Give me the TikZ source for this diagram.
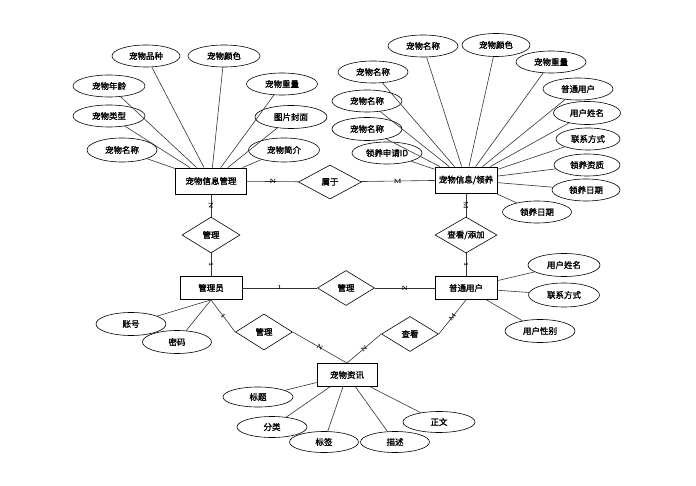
\documentclass[tikz,border=0pt]{standalone}
\usepackage{fontspec}
\newfontfamily\cjk{Noto Sans CJK SC}[AutoFakeBold=1.5]
\usepackage{tikz}
\usetikzlibrary{shapes.geometric,positioning}

\begin{document}
\begin{tikzpicture}[x=1pt, y=-1pt,
    entity/.style={rectangle, draw, line width=0.8pt, minimum width=62pt, minimum height=23pt, inner sep=1pt, font=\cjk\bfseries\fontsize{8.5}{10}\selectfont},
    attr/.style={ellipse, draw, line width=0.6pt, minimum width=70pt, minimum height=22pt, inner sep=0pt, font=\cjk\bfseries\fontsize{8.5}{10}\selectfont},
    rel/.style={diamond, draw, line width=0.6pt, aspect=1.7, minimum width=58pt, minimum height=36pt, inner sep=0pt, font=\cjk\bfseries\fontsize{8.5}{10}\selectfont},
    link/.style={draw=black!80, line width=0.6pt},
    card/.style={font=\bfseries\fontsize{6}{6}\selectfont, sloped, inner sep=0.5pt}
]
    \useasboundingbox (0,0) rectangle (696,486);

    % Entities
    \node[entity, minimum width=71pt, minimum height=26pt] (petmgr) at (211,181) {宠物信息管理};
    \node[entity, minimum height=26pt] (petadopt) at (466,180) {宠物信息/领养};
    \node[entity] (admin) at (211,288) {管理员};
    \node[entity] (user) at (466,288) {普通用户};
    \node[entity, minimum width=60pt] (news) at (347,375) {宠物资讯};

    % Relationships
    \node[rel, minimum width=63pt, minimum height=34pt] (belong) at (330,182) {属于};
    \node[rel] (manage1) at (211,235) {管理};
    \node[rel, minimum width=62pt] (view1) at (466,235) {查看/添加};
    \node[rel, minimum width=57pt, minimum height=35pt] (manage2) at (346,288) {管理};
    \node[rel, minimum width=57pt] (manage3) at (264,332) {管理};
    \node[rel, minimum width=57pt, minimum height=35pt] (view2) at (410,334) {查看};

    % Attributes of 宠物信息管理
    \node[attr, minimum width=68pt] (breed) at (146,56) {宠物品种};
    \node[attr, minimum width=72pt] (color1) at (224,56) {宠物颜色};
    \node[attr, minimum width=72pt] (age) at (109,86) {宠物年龄};
    \node[attr, minimum width=71pt] (weight1) at (282,84) {宠物重量};
    \node[attr, minimum width=72pt] (type) at (109,116) {宠物类型};
    \node[attr, minimum width=72pt, minimum height=23pt] (cover) at (291,117) {图片封面};
    \node[attr, minimum height=24pt] (name1) at (122,150) {宠物名称};
    \node[attr, minimum width=71pt, minimum height=24pt] (intro) at (284,150) {宠物简介};

    % Attributes of 宠物信息/领养
    \node[attr] (name2) at (423,46) {宠物名称};
    \node[attr, minimum width=68pt, minimum height=23pt] (color2) at (496,45) {宠物颜色};
    \node[attr] (weight2) at (551,62) {宠物重量};
    \node[attr] (name3) at (373,72) {宠物名称};
    \node[attr] (puser) at (578,89) {普通用户};
    \node[attr] (name4) at (367,101) {宠物名称};
    \node[attr, minimum width=67pt, minimum height=23pt] (uname1) at (587,113) {用户姓名};
    \node[attr, minimum height=23pt] (name5) at (367,129) {宠物名称};
    \node[attr, minimum width=64pt] (phone1) at (588,139) {联系方式};
    \node[attr] (applyid) at (387,153) {领养申请ID};
    \node[attr, minimum width=66pt] (qualify) at (587,165) {领养资质};
    \node[attr, minimum width=68pt] (date1) at (586,190) {领养日期};
    \node[attr, minimum width=69pt] (date2) at (537,212) {领养日期};

    % Attributes of 管理员 and 普通用户
    \node[attr, minimum height=23pt] (account) at (131,324) {账号};
    \node[attr, minimum width=69pt, minimum height=23pt] (pwd) at (177,342) {密码};
    \node[attr, minimum width=72pt, minimum height=23pt] (uname2) at (564,265) {用户姓名};
    \node[attr, minimum width=71pt, minimum height=24pt] (phone2) at (564,295) {联系方式};
    \node[attr, minimum height=23pt] (gender) at (540,331) {用户性别};

    % Attributes of 宠物资讯
    \node[attr, minimum height=20pt] (title) at (258,397) {标题};
    \node[attr, minimum height=21pt] (category) at (272,427) {分类};
    \node[attr, minimum width=69pt, minimum height=21pt] (tag) at (324,442) {标签};
    \node[attr, minimum width=69pt, minimum height=21pt] (desc) at (395,442) {描述};
    \node[attr, minimum width=72pt, minimum height=21pt] (body) at (439,422) {正文};

    % Relationship lines
    \draw[link] (petmgr) -- node[card]{N} (belong);
    \draw[link] (belong) -- node[card]{M} (petadopt);
    \draw[link] (petmgr) -- node[card]{N} (manage1);
    \draw[link] (manage1) -- node[card]{1} (admin);
    \draw[link] (petadopt) -- node[card]{M} (view1);
    \draw[link] (view1) -- node[card]{1} (user);
    \draw[link] (admin) -- node[card]{1} (manage2);
    \draw[link] (manage2) -- node[card]{N} (user);
    \draw[link] (admin.south) -- node[card]{1} (manage3.west);
    \draw[link] (manage3.east) -- node[card]{N} (news.north);
    \draw[link] (user.south) -- node[card]{M} (view2.east);
    \draw[link] (view2.west) -- node[card]{N} (news.north);

    % Attribute lines
    \foreach \a in {breed,color1,age,weight1,type,cover,name1,intro}
        \draw[link] (\a) -- (petmgr);
    \foreach \a in {name2,color2,weight2,name3,puser,name4,uname1,name5,phone1,applyid,qualify,date1,date2}
        \draw[link] (\a) -- (petadopt);
    \draw[link] (account) -- (admin.south);
    \draw[link] (pwd) -- (admin.south);
    \foreach \a in {uname2,phone2,gender}
        \draw[link] (\a) -- (user);
    \foreach \a in {title,category,tag,desc,body}
        \draw[link] (\a) -- (news);
\end{tikzpicture}
\end{document}
